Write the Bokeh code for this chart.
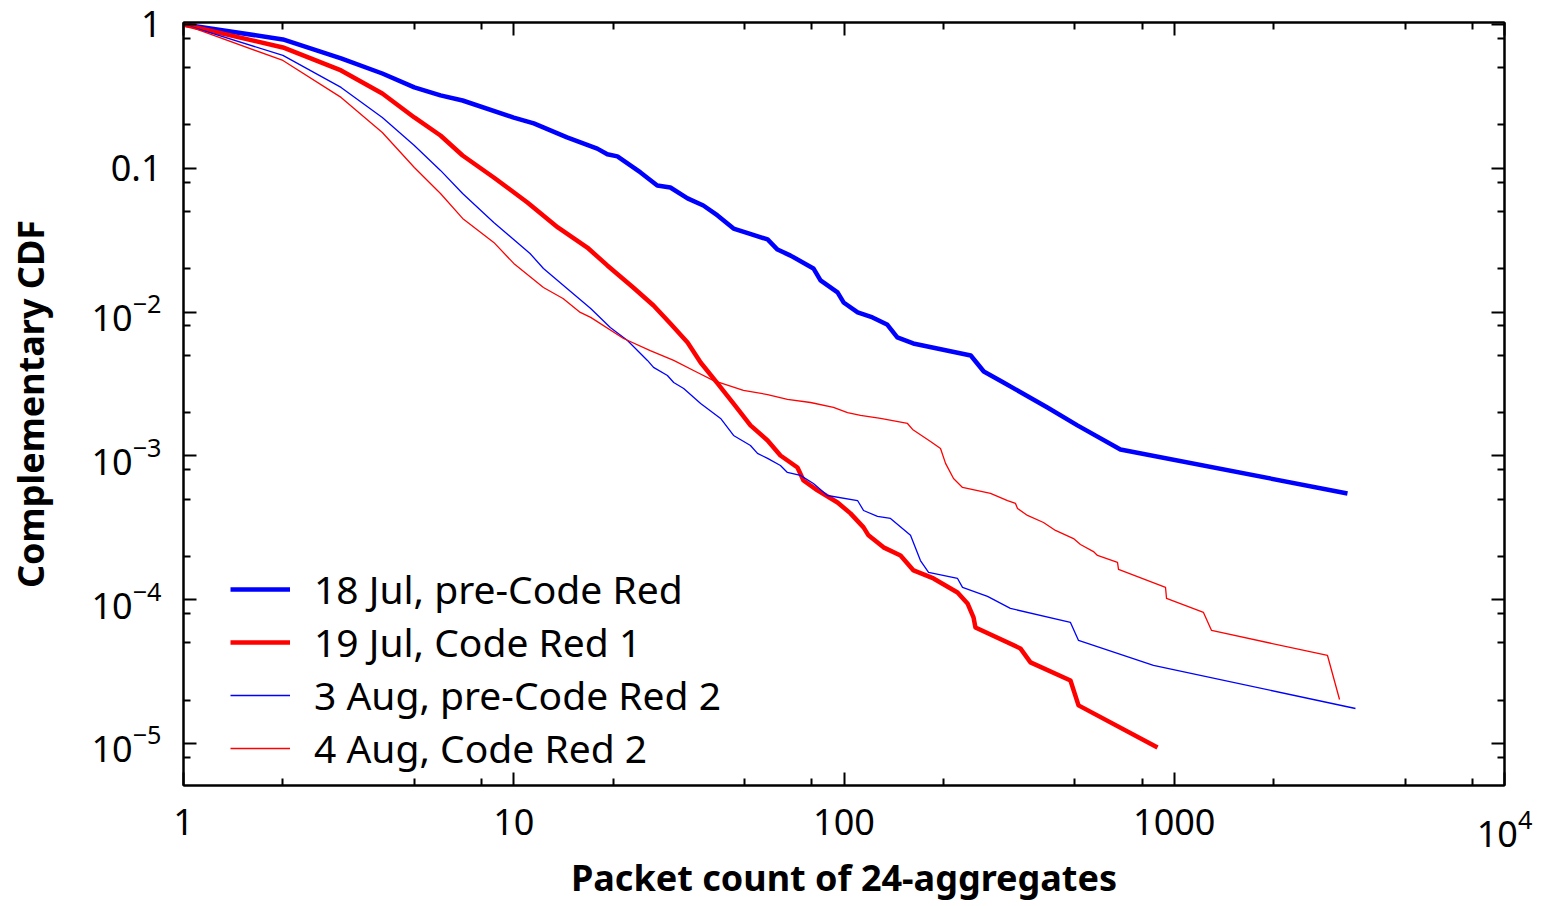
from bokeh.plotting import figure
from bokeh.models import (FixedTicker, LogAxis, LogTickFormatter, Legend, LegendItem,
                          Range1d, CustomJSTickFormatter)
from bokeh.embed import file_html
from bokeh.resources import INLINE

# ---------------- data ----------------
jul18_x = [1, 2, 3, 4, 5, 6, 7, 10, 11.5, 14.5, 17.9, 19.2, 20.6, 24.2, 27.2, 29.8, 33.6,
           37.5, 41.4, 46.3, 51.4, 58.7, 62.9, 68.9, 80.8, 84.9, 95.6, 99.7, 110, 122, 135,
           145, 162, 242, 265, 304, 413, 509, 687, 3346]
jul18_y = [1.0, 0.787, 0.58, 0.456, 0.365, 0.321, 0.296, 0.225, 0.205, 0.164, 0.137, 0.125,
           0.121, 0.0935, 0.0759, 0.0735, 0.0617, 0.0551, 0.047, 0.0381, 0.0352, 0.032,
           0.0272, 0.0247, 0.0201, 0.0166, 0.0137, 0.01166, 0.00994, 0.00918, 0.0082,
           0.00666, 0.00605, 0.00499, 0.00386, 0.00324, 0.00217, 0.00163, 0.001108, 0.000548]

jul19_x = [1, 2, 3, 4, 5, 6, 7, 8.7, 11, 13.6, 16.7, 19.2, 23, 26.5, 29.8, 33.6, 36.8, 41.4,
           46.3, 52.1, 58.7, 64.2, 72.3, 75.4, 83.1, 95.6, 104.6, 114.6, 118.6, 131.7, 148.3,
           162.4, 186.6, 220.7, 236.6, 246.7, 250, 342, 367, 485, 513, 890]
jul19_y = [1.0, 0.692, 0.479, 0.331, 0.2256, 0.169, 0.1227, 0.0863, 0.0578, 0.0388, 0.0281,
           0.0211, 0.01483, 0.0111, 0.00833, 0.00614, 0.00446, 0.00319, 0.00231, 0.00163,
           0.00128, 0.001006, 0.00083, 0.000674, 0.000575, 0.000474, 0.000398, 0.000318,
           0.00028, 0.000231, 0.000203, 0.0001596, 0.0001404, 0.0001122, 0.0000941,
           0.0000752, 0.0000641, 0.0000458, 0.0000366, 0.0000274, 0.0000184, 0.00000938]

aug3_x = [1, 2, 3, 4, 5, 6, 7, 8.7, 11.2, 12.3, 14.5, 17.1, 19.6, 22.1, 25.4, 26.5, 29.2,
          30.5, 32.7, 36.8, 42.3, 46.3, 52.1, 54.7, 58.7, 64.2, 67.4, 73.8, 80.8, 89.1,
          109.9, 114.6, 126.3, 138.3, 159, 170.4, 180.3, 220.7, 228.5, 272, 319, 485, 513,
          865, 3538]
aug3_y = [1.0, 0.609, 0.365, 0.2256, 0.144, 0.0966, 0.0668, 0.042, 0.02555, 0.0201, 0.01459,
          0.0106, 0.00781, 0.00635, 0.00461, 0.00412, 0.00362, 0.00324, 0.00294, 0.00231,
          0.00182, 0.001386, 0.00118, 0.00104, 0.00096, 0.000857, 0.000767, 0.000731,
          0.000643, 0.00053, 0.000489, 0.000417, 0.000379, 0.000367, 0.00028, 0.000187,
          0.0001546, 0.0001404, 0.0001216, 0.0001053, 0.0000869, 0.0000694, 0.000052,
          0.0000349, 0.0000175]

aug4_x = [1, 2, 3, 4, 5, 6, 7, 8.7, 10, 12.3, 14.1, 15.9, 17.1, 21.5, 25.9, 30.5, 36, 40.3,
          49.6, 58.7, 67.4, 79.2, 92.9, 102.5, 112.2, 129, 155.7, 161.3, 182.8, 196, 203,
          214.6, 228.5, 277.7, 312.7, 330.6, 335.3, 359.4, 401.9, 436.9, 495.4, 520, 569.4,
          585.5, 673.2, 678, 941, 947.5, 1226, 1297, 2911, 3166]
aug4_y = [1.0, 0.562, 0.311, 0.1774, 0.1013, 0.0668, 0.0448, 0.0305, 0.0218, 0.01483,
          0.01243, 0.00994, 0.00918, 0.00655, 0.0054, 0.00461, 0.0038, 0.00334, 0.00285,
          0.00267, 0.00247, 0.00235, 0.00217, 0.002, 0.00191, 0.00182, 0.00168, 0.001527,
          0.00126, 0.001126, 0.000886, 0.000696, 0.000603, 0.000548, 0.000489, 0.000467,
          0.000431, 0.000385, 0.000344, 0.000303, 0.000266, 0.000242, 0.000216, 0.000203,
          0.0001815, 0.0001622, 0.0001216, 0.000102, 0.0000815, 0.0000611, 0.0000409,
          0.0000202]

series_labels = ["18 Jul, pre-Code Red", "19 Jul, Code Red 1",
                 "3 Aug, pre-Code Red 2", "4 Aug, Code Red 2"]

x_major_ticks = [1, 10, 100, 1000, 10000]
x_minor_ticks = [2, 5, 8, 20, 50, 80, 200, 500, 800, 2000, 5000, 8000]
y_major_ticks = [1e-5, 1e-4, 1e-3, 1e-2, 1e-1, 1]
y_minor_ticks = [8e-6, 2e-5, 5e-5, 8e-5, 2e-4, 5e-4, 8e-4, 2e-3, 5e-3, 8e-3,
                 2e-2, 5e-2, 8e-2, 0.2, 0.5, 0.8]

FONT = "Noto Sans"

p = figure(width=1543, height=906, x_axis_type="log", y_axis_type="log",
           x_range=Range1d(1, 1e4), y_range=Range1d(5.1e-6, 1.032),
           output_backend="svg", toolbar_location=None,
           min_border_left=183, min_border_right=39, min_border_top=22,
           min_border_bottom=121)
p.xgrid.visible = False
p.ygrid.visible = False
p.outline_line_color = "black"
p.outline_line_width = 2
p.background_fill_color = "white"
p.border_fill_color = "white"


def style_axis(ax, major, minor):
    ax.ticker = FixedTicker(ticks=major, minor_ticks=minor)
    ax.axis_line_color = "black"
    ax.axis_line_width = 2
    ax.major_tick_in = 13
    ax.major_tick_out = 0
    ax.minor_tick_in = 7
    ax.minor_tick_out = 0
    ax.major_tick_line_width = 2
    ax.minor_tick_line_width = 2
    ax.major_tick_line_color = "black"
    ax.minor_tick_line_color = "black"
    ax.major_label_text_font = FONT
    ax.major_label_text_font_size = "36px"
    ax.major_label_text_color = "black"
    ax.axis_label_text_font = FONT
    ax.axis_label_text_font_size = "36px"
    ax.axis_label_text_font_style = "bold"
    ax.axis_label_text_color = "black"


xa = p.xaxis[0]
style_axis(xa, x_major_ticks, x_minor_ticks)
xa.formatter = LogTickFormatter(min_exponent=4)
xa.axis_label = "Packet count of 24-aggregates"
xa.major_label_standoff = 23
xa.axis_label_standoff = 3

ya = p.yaxis[0]
style_axis(ya, y_major_ticks, y_minor_ticks)
ya.formatter = LogTickFormatter(min_exponent=2)
ya.axis_label = "Complementary CDF"
ya.major_label_standoff = 22
ya.axis_label_standoff = 34

blank = "return ''"
top = LogAxis()
style_axis(top, x_major_ticks, x_minor_ticks)
top.formatter = CustomJSTickFormatter(code=blank)
top.major_label_text_font_size = "1px"
top.major_label_standoff = 0
p.add_layout(top, "above")

right = LogAxis()
style_axis(right, y_major_ticks, y_minor_ticks)
right.formatter = CustomJSTickFormatter(code=blank)
right.major_label_text_font_size = "1px"
right.major_label_standoff = 0
p.add_layout(right, "right")

r1 = p.line(jul18_x, jul18_y, line_color="#0000ff", line_width=4.5, line_join="round")
r2 = p.line(jul19_x, jul19_y, line_color="#ff0000", line_width=4.5, line_join="round")
r3 = p.line(aug3_x, aug3_y, line_color="#0000ff", line_width=1.3, line_join="round")
r4 = p.line(aug4_x, aug4_y, line_color="#ff0000", line_width=1.3, line_join="round")

legend = Legend(items=[LegendItem(label=series_labels[0], renderers=[r1]),
                       LegendItem(label=series_labels[1], renderers=[r2]),
                       LegendItem(label=series_labels[2], renderers=[r3]),
                       LegendItem(label=series_labels[3], renderers=[r4])],
                location=(47, 11), background_fill_alpha=0, border_line_color=None,
                label_text_font=FONT, label_text_font_size="39px",
                label_text_color="black", glyph_width=60, glyph_height=50,
                label_height=50, label_standoff=24, spacing=0, padding=0, margin=0)
p.add_layout(legend)

open("out.html", "w").write(file_html(p, INLINE))
